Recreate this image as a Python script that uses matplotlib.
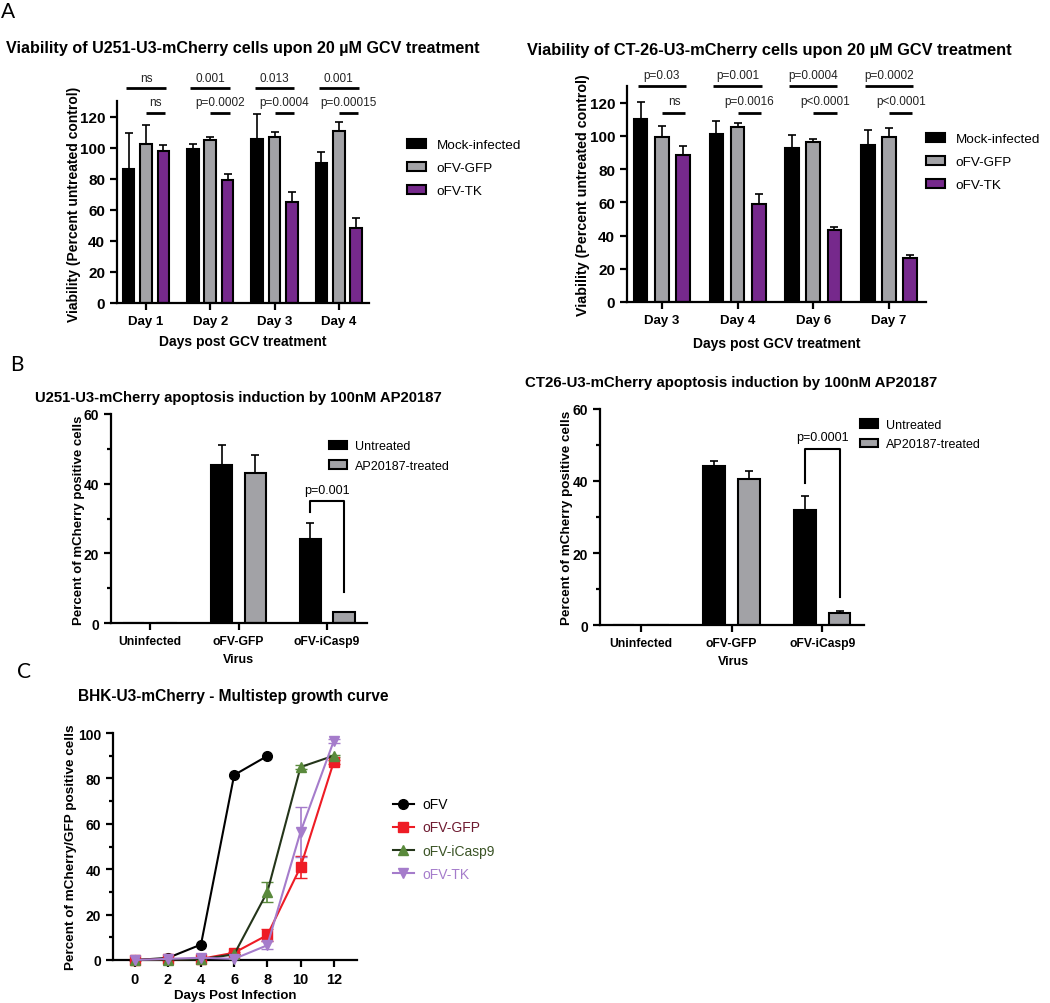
import numpy as np
import matplotlib.pyplot as plt
from matplotlib.ticker import MultipleLocator

plt.rcParams['font.family'] = ['Liberation Sans', 'DejaVu Sans']

W, H = 1050, 1004

# ---------------- data ----------------
# A: viability after GCV
u251_days = ['Day 1', 'Day 2', 'Day 3', 'Day 4']
u251_mock = [86.0, 99.3, 105.7, 90.3]
u251_mock_sd = [23.5, 3.0, 15.8, 6.9]
u251_gfp = [102.3, 104.9, 107.0, 110.7]
u251_gfp_sd = [12.4, 1.7, 3.0, 5.5]
u251_tk = [97.6, 79.2, 65.0, 48.5]
u251_tk_sd = [4.0, 3.8, 6.5, 6.0]
u251_p_top = ['ns', '0.001', '0.013', '0.001']
u251_p_low = ['ns', 'p=0.0002', 'p=0.0004', 'p=0.00015']

ct26_days = ['Day 3', 'Day 4', 'Day 6', 'Day 7']
ct26_mock = [110.0, 101.1, 92.5, 94.5]
ct26_mock_sd = [10.4, 7.9, 8.0, 9.3]
ct26_gfp = [99.5, 105.4, 96.1, 99.5]
ct26_gfp_sd = [6.5, 2.4, 1.8, 5.1]
ct26_tk = [88.3, 58.8, 43.5, 26.5]
ct26_tk_sd = [5.4, 6.0, 1.5, 2.0]
ct26_p_top = ['p=0.03', 'p=0.001', 'p=0.0004', 'p=0.0002']
ct26_p_low = ['ns', 'p=0.0016', 'p<0.0001', 'p<0.0001']

# B: apoptosis induction
viruses = ['Uninfected', 'oFV-GFP', 'oFV-iCasp9']
u251_untr = [0.0, 45.4, 24.2]
u251_untr_sd = [0.0, 5.8, 4.5]
u251_ap = [0.0, 43.1, 3.1]
u251_ap_sd = [0.0, 5.1, 0.2]
ct26_untr = [0.0, 44.3, 32.0]
ct26_untr_sd = [0.0, 1.3, 3.7]
ct26_ap = [0.0, 40.5, 3.3]
ct26_ap_sd = [0.0, 2.4, 0.5]

# C: growth curve
days = [0, 2, 4, 6, 8, 10, 12]
ofv = [0.0, 0.9, 6.8, 81.5, 89.9]
ofv_gfp = [0.0, 0.3, 0.5, 3.2, 11.0, 41.0, 87.3]
ofv_gfp_sd = [0, 0, 0, 0.5, 2.5, 5.0, 1.0]
ofv_icasp9 = [0.0, 0.2, 0.3, 2.5, 30.0, 85.0, 90.0]
ofv_icasp9_sd = [0, 0, 0, 0.3, 4.4, 0.8, 0.5]
ofv_tk = [0.0, 0.5, 1.0, 0.5, 6.5, 56.5, 96.5]
ofv_tk_sd = [0, 0, 0, 0, 1.8, 11.0, 1.0]

BLACK = 'black'
GREY = '#a2a2a6'
PURPLE = '#76298c'


def box(l, t, r, b):
    return [l / W, 1 - b / H, (r - l) / W, (b - t) / H]


def fx(x):
    return x / W


def fy(y):
    return 1 - y / H


def style(ax, xsize=9, ysize=10):
    for s in ['top', 'right']:
        ax.spines[s].set_visible(False)
    for s in ['left', 'bottom']:
        ax.spines[s].set_linewidth(1.6)
    ax.tick_params(which='major', width=1.6, length=5)
    ax.tick_params(which='minor', width=1.6, length=3)
    ax.tick_params(axis='x', labelsize=xsize)
    ax.tick_params(axis='y', labelsize=ysize)
    plt.setp(ax.get_xticklabels() + ax.get_yticklabels(), fontweight='bold')


def bar_err(ax, x, vals, sd, color, width, label):
    ax.bar(x, vals, width, color=color, edgecolor='black', linewidth=1.5, label=label, zorder=2)
    ax.errorbar(x, vals, yerr=[np.zeros(len(sd)), sd], fmt='none', ecolor='black',
                elinewidth=1.2, capsize=3, capthick=1.2, zorder=1)


fig = plt.figure(figsize=(10.5, 10.04), dpi=100)

# ---------------- panel A ----------------
def panel_a(rect, days_lbl, mock, mock_sd, gfp, gfp_sd, tk, tk_sd, ptop, plow,
            xlim, top_y, low_y, off):
    ax = fig.add_axes(box(*rect))
    x = np.arange(len(days_lbl))
    w = 0.18
    bar_err(ax, x - off, mock, mock_sd, BLACK, w, 'Mock-infected')
    bar_err(ax, x, gfp, gfp_sd, GREY, w, 'oFV-GFP')
    bar_err(ax, x + off, tk, tk_sd, PURPLE, w, 'oFV-TK')
    ax.set_xlim(*xlim)
    ax.set_ylim(0, 130)
    ax.set_yticks(range(0, 121, 20))
    ax.set_xticks(x, days_lbl)
    style(ax, 9.5, 11)
    for i in x:
        ax.plot([i - off - 0.04, i + off + 0.04], [top_y, top_y], color='black', lw=2,
                clip_on=False, solid_capstyle='butt')
        ax.text(i, top_y + 6.5, ptop[i], ha='center', va='center', fontsize=8.5, color='#222222')
        ax.plot([i, i + off + 0.03], [low_y, low_y], color='black', lw=2,
                clip_on=False, solid_capstyle='butt')
        ax.text(i + off / 2 + 0.02, low_y + 7, plow[i], ha='center', va='center', fontsize=8.5,
                color='#222222')
    return ax


axA1 = panel_a((117, 102, 369, 304), u251_days, u251_mock, u251_mock_sd, u251_gfp, u251_gfp_sd,
               u251_tk, u251_tk_sd, u251_p_top, u251_p_low, (-0.45, 3.47), 138.5, 122.4, 0.27)
axA2 = panel_a((627, 87, 926, 303), ct26_days, ct26_mock, ct26_mock_sd, ct26_gfp, ct26_gfp_sd,
               ct26_tk, ct26_tk_sd, ct26_p_top, ct26_p_low, (-0.46, 3.49), 130.2, 114.0, 0.28)

for ax, lx, ly in [(axA1, 407, 169), (axA2, 926, 163)]:
    ax.legend(loc='center left', bbox_to_anchor=(fx(lx), fy(ly)), bbox_transform=fig.transFigure,
              frameon=False, fontsize=9.7, borderpad=0, borderaxespad=0, handlelength=1.4,
              handleheight=0.7, handletextpad=0.8, labelspacing=0.8)

fig.text(fx(1), fy(2), 'A', fontsize=15, family='Lato', ha='left', va='top')
fig.text(fx(6), fy(48), 'Viability of U251-U3-mCherry cells upon 20 µM GCV treatment',
         fontsize=11.6, fontweight='bold', ha='left', va='center')
fig.text(fx(527), fy(51), 'Viability of CT-26-U3-mCherry cells upon 20 µM GCV treatment',
         fontsize=11.8, fontweight='bold', ha='left', va='center')
fig.text(fx(74), fy(204), 'Viability (Percent untreated control)', rotation=90, fontsize=10,
         fontweight='bold', ha='center', va='center')
fig.text(fx(583), fy(195), 'Viability (Percent untreated control)', rotation=90, fontsize=10.3,
         fontweight='bold', ha='center', va='center')
fig.text(fx(243), fy(342), 'Days post GCV treatment', fontsize=10, fontweight='bold',
         ha='center', va='center')
fig.text(fx(777), fy(344), 'Days post GCV treatment', fontsize=10, fontweight='bold',
         ha='center', va='center')

# ---------------- panel B ----------------
def panel_b(rect, untr, untr_sd, ap, ap_sd, ptxt, b_left, b_top, b_right, xlim):
    ax = fig.add_axes(box(*rect))
    x = np.arange(len(viruses))
    w = 0.24
    off = 0.19
    bar_err(ax, x - off, untr, untr_sd, BLACK, w, 'Untreated')
    bar_err(ax, x + off, ap, ap_sd, GREY, w, 'AP20187-treated')
    ax.set_xlim(*xlim)
    ax.set_ylim(0, 60)
    ax.set_yticks(range(0, 61, 20))
    ax.yaxis.set_minor_locator(MultipleLocator(10))
    ax.set_xticks(x, viruses)
    style(ax, 8.7, 10)
    i = 2
    ax.plot([i - off, i - off, i + off, i + off], [b_left, b_top, b_top, b_right],
            color='black', lw=1.5)
    ax.text(i, b_top + 3.3, ptxt, ha='center', va='center', fontsize=9)
    return ax


axB1 = panel_b((111, 415, 367, 624), u251_untr, u251_untr_sd, u251_ap, u251_ap_sd, 'p=0.001',
               32, 35, 9, (-0.44, 2.45))
axB2 = panel_b((600, 410, 864, 626), ct26_untr, ct26_untr_sd, ct26_ap, ct26_ap_sd, 'p=0.0001',
               39.4, 49, 7.9, (-0.45, 2.46))

for ax, lx, ly in [(axB1, 329, 457), (axB2, 860, 435.5)]:
    ax.legend(loc='center left', bbox_to_anchor=(fx(lx), fy(ly)), bbox_transform=fig.transFigure,
              frameon=False, fontsize=9, borderpad=0, borderaxespad=0, handlelength=1.4,
              handleheight=0.7, handletextpad=0.7, labelspacing=0.6)

fig.text(fx(10), fy(355), 'B', fontsize=15, family='Lato', ha='left', va='top')
fig.text(fx(35), fy(398), 'U251-U3-mCherry apoptosis induction by 100nM AP20187',
         fontsize=10.7, fontweight='bold', ha='left', va='center')
fig.text(fx(525), fy(383), 'CT26-U3-mCherry apoptosis induction by 100nM AP20187',
         fontsize=10.8, fontweight='bold', ha='left', va='center')
fig.text(fx(79), fy(520), 'Percent of mCherry positive cells', rotation=90, fontsize=9.5,
         fontweight='bold', ha='center', va='center')
fig.text(fx(567), fy(518), 'Percent of mCherry positive cells', rotation=90, fontsize=9.7,
         fontweight='bold', ha='center', va='center')
fig.text(fx(238), fy(660), 'Virus', fontsize=9, fontweight='bold', ha='center', va='center')
fig.text(fx(733), fy(662), 'Virus', fontsize=9, fontweight='bold', ha='center', va='center')

# ---------------- panel C ----------------
axC = fig.add_axes(box(113, 734, 357, 961))
axC.plot(days[:len(ofv)], ofv, '-o', color='black', lw=1.5, ms=7, label='oFV', clip_on=False,
         zorder=3)
series = [
    (ofv_gfp, ofv_gfp_sd, '#ee1c25', '#ee1c25', 's', 'oFV-GFP'),
    (ofv_icasp9, ofv_icasp9_sd, '#24351a', '#5a8a3c', '^', 'oFV-iCasp9'),
    (ofv_tk, ofv_tk_sd, '#a57ccb', '#a57ccb', 'v', 'oFV-TK'),
]
for vals, sd, lc, mc, mk, lbl in series:
    axC.errorbar(days, vals, yerr=sd, fmt='none', ecolor=mc, elinewidth=1.2, capsize=4,
                 clip_on=False, zorder=2)
    axC.plot(days, vals, color=lc, mfc=mc, mec=mc, marker=mk, ms=7, lw=1.5, label=lbl,
             clip_on=False, zorder=3)
axC.set_xlim(-1.3, 13.4)
axC.set_ylim(0, 100)
axC.set_xticks(days)
axC.set_yticks(range(0, 101, 20))
axC.yaxis.set_minor_locator(MultipleLocator(10))
style(axC, 10.5, 10)
legC = axC.legend(loc='center left', bbox_to_anchor=(fx(393), fy(840)),
                  bbox_transform=fig.transFigure, frameon=False, fontsize=10, borderpad=0,
                  borderaxespad=0, handlelength=1.5, handletextpad=0.6, labelspacing=0.65)
for t, c in zip(legC.get_texts(), ['black', '#6e1a30', '#3b5426', '#a57ccb']):
    t.set_color(c)

fig.text(fx(17), fy(662), 'C', fontsize=15, family='Lato', ha='left', va='top')
fig.text(fx(78), fy(696), 'BHK-U3-mCherry - Multistep growth curve', fontsize=11.2,
         fontweight='bold', ha='left', va='center')
fig.text(fx(71), fy(847), 'Percent of mCherry/GFP positive cells', rotation=90, fontsize=9.7,
         fontweight='bold', ha='center', va='center')
fig.text(fx(235), fy(996), 'Days Post Infection', fontsize=9.5, fontweight='bold',
         ha='center', va='center')

fig.savefig('out.png', dpi=100)
